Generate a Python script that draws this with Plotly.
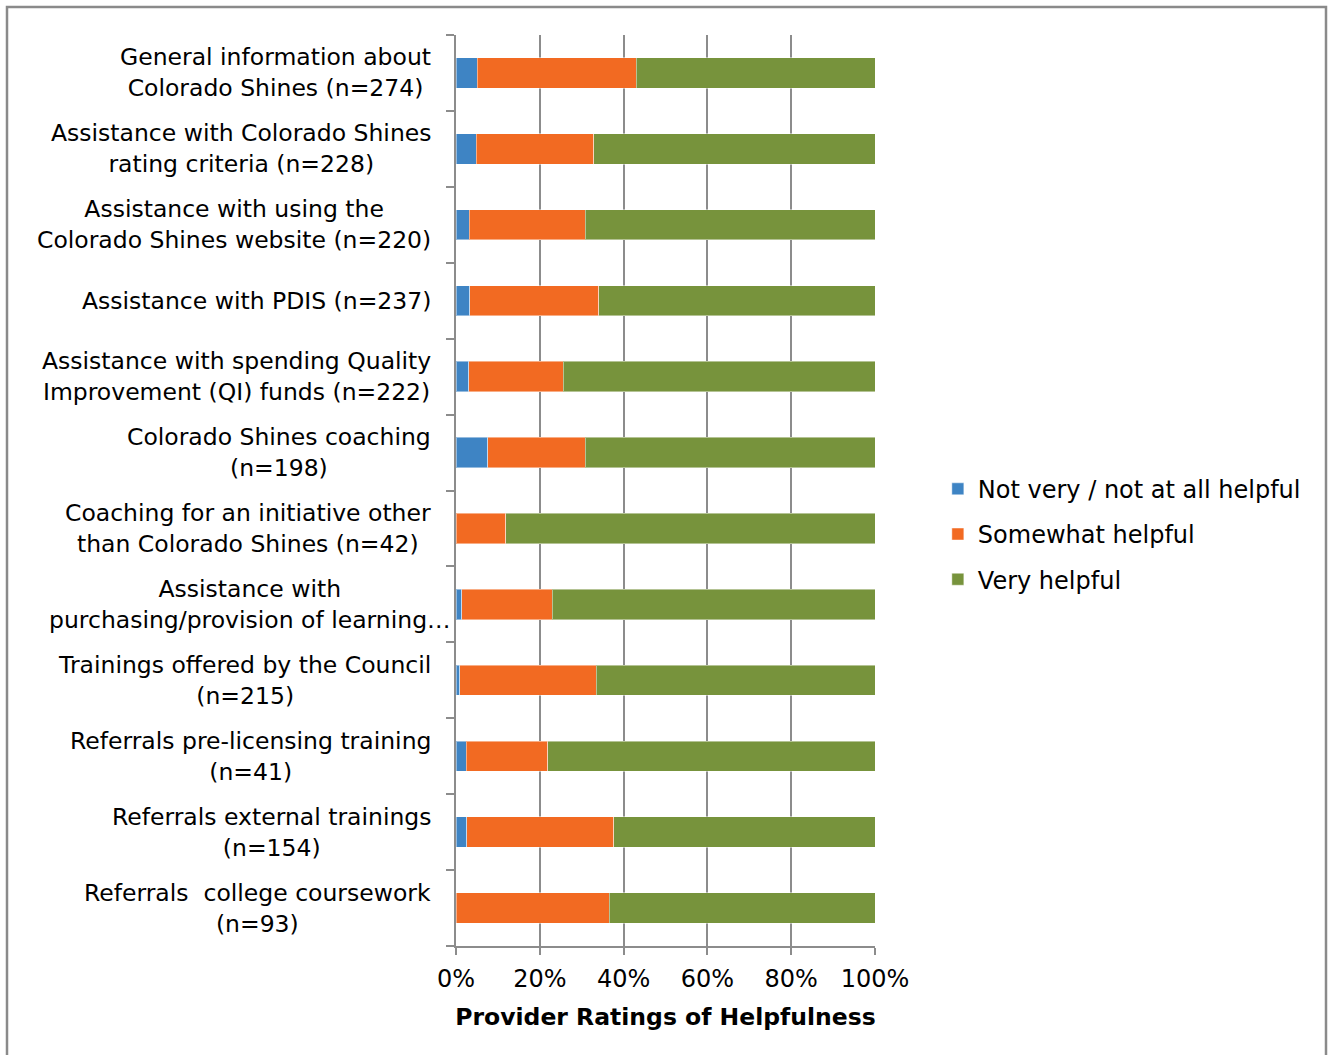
import plotly.graph_objects as go

categories = [
    "General information about<br>Colorado Shines (n=274)",
    "Assistance with Colorado Shines<br>rating criteria (n=228)",
    "Assistance with using the<br>Colorado Shines website (n=220)",
    "Assistance with PDIS (n=237)",
    "Assistance with spending Quality<br>Improvement (QI) funds (n=222)",
    "Colorado Shines coaching<br>(n=198)",
    "Coaching for an initiative other<br>than Colorado Shines (n=42)",
    "Assistance with<br>purchasing/provision of learning\u2026",
    "Trainings offered by the Council<br>(n=215)",
    "Referrals pre-licensing training<br>(n=41)",
    "Referrals external trainings<br>(n=154)",
    "Referrals\u00a0 college coursework<br>(n=93)",
]
not_helpful = [5.1, 4.8, 3.2, 3.3, 3.1, 7.6, 0.0, 1.4, 0.9, 2.4, 2.6, 0.0]
somewhat_helpful = [37.9, 28.1, 27.7, 30.8, 22.5, 23.2, 11.9, 21.6, 32.6, 19.5, 35.1, 36.6]
very_helpful = [57.0, 67.1, 69.1, 65.9, 74.4, 69.2, 88.1, 77.0, 66.5, 78.1, 62.3, 63.4]

series_names = ["Not very / not at all helpful", "Somewhat helpful", "Very helpful"]
series_values = [not_helpful, somewhat_helpful, very_helpful]
colors = ["#3E84C4", "#F26A22", "#77933C"]

FONT = "DejaVu Sans, Verdana, sans-serif"
GRID = "#8C8C8C"

fig = go.Figure()
for name, vals, col in zip(series_names, series_values, colors):
    fig.add_trace(go.Bar(
        y=list(range(len(categories))),
        x=[v / 100 for v in vals],
        name=name,
        orientation="h",
        marker=dict(color=col, line=dict(color="rgba(255,255,255,0.45)", width=1)),
        legendgroup=name,
        hoverinfo="skip",
    ))

annotations = []
for i, lab in enumerate(categories):
    shift = -23
    if "learning" in lab:
        shift = -3
    annotations.append(dict(
        x=0, xref="paper", y=i, yref="y",
        text=lab, showarrow=False, xanchor="right", yanchor="middle",
        align="center", xshift=shift,
        font=dict(family=FONT, size=23.5, color="#000000"),
    ))

fig.update_layout(
    width=1331, height=1055,
    margin=dict(l=456, r=456, t=35, b=109),
    paper_bgcolor="white", plot_bgcolor="white",
    barmode="stack", bargap=0.6,
    font=dict(family=FONT, size=23, color="#000000"),
    showlegend=True,
    legend=dict(
        x=1.15, xanchor="left", y=0.452, yanchor="middle",
        font=dict(family=FONT, size=24, color="#000000"),
        traceorder="grouped", tracegroupgap=11, itemwidth=30,
        bgcolor="rgba(0,0,0,0)",
    ),
    xaxis=dict(
        range=[0, 1], dtick=0.2, tick0=0, tickformat=".0%",
        showgrid=True, gridcolor=GRID, gridwidth=1.6,
        showline=True, linecolor=GRID, linewidth=1.6,
        ticks="outside", ticklen=7, tickcolor=GRID, tickwidth=1.6,
        zeroline=False, ticklabelstandoff=3,
        tickfont=dict(family=FONT, size=24, color="#000000"),
        title=dict(text="<b>Provider Ratings of Helpfulness</b>",
                   font=dict(family=FONT, size=23.5, color="#000000"), standoff=17),
    ),
    yaxis=dict(
        type="category", autorange="reversed",
        tickmode="array", tickvals=list(range(len(categories))),
        showticklabels=False, tickson="boundaries",
        ticks="outside", ticklen=8, tickcolor=GRID, tickwidth=1.6,
        showline=True, linecolor=GRID, linewidth=1.6,
        showgrid=False, zeroline=False,
    ),
    annotations=annotations,
    shapes=[dict(
        type="rect", xref="paper", yref="paper",
        x0=(7 - 456) / 419, x1=(1326 - 456) / 419,
        y0=(946 - 1070) / 911, y1=(946 - 7) / 911,
        line=dict(color="#8A8A8A", width=2.5), fillcolor="rgba(0,0,0,0)",
        layer="below",
    )],
)

fig.write_html("out.html")
